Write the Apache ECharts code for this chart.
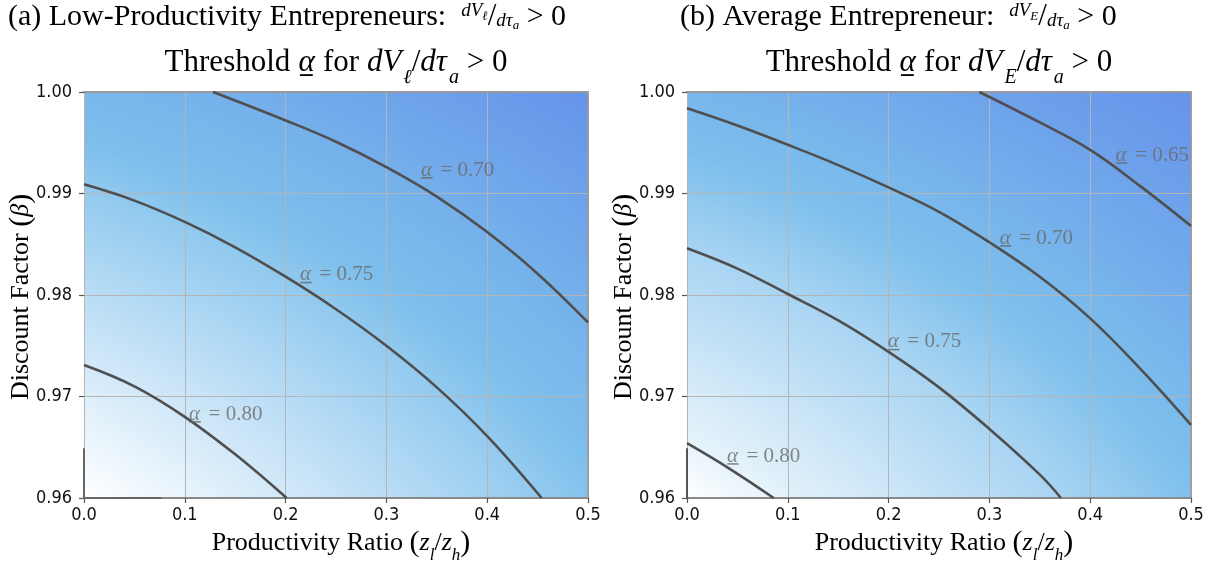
<!DOCTYPE html>
<html><head><meta charset="utf-8">
<script src="https://cdn.jsdelivr.net/npm/echarts@6/dist/echarts.min.js"></script>
<style>html,body{margin:0;padding:0;background:#fff}#c{width:1213px;height:563px}</style>
</head><body><div id="c"></div>
<script>
// ---------- data ----------
const xTickLabels = ['0.0', '0.1', '0.2', '0.3', '0.4', '0.5'];
const yTickLabels = ['0.96', '0.97', '0.98', '0.99', '1.00'];

// Panel (a): low-productivity entrepreneurs, contour lines of threshold alpha  [z_l/z_h, beta]
const a_alpha070 = [[0.128,1.000],[0.20,0.9972],[0.25,0.9951],[0.30,0.9926],[0.35,0.9897],[0.40,0.9862],[0.45,0.9821],[0.50,0.9773]];
const a_alpha075 = [[0,0.9909],[0.05,0.9893],[0.10,0.9872],[0.15,0.9847],[0.20,0.9818],[0.25,0.9786],[0.30,0.9750],[0.35,0.9709],[0.40,0.9661],[0.454,0.960]];
const a_alpha080 = [[0,0.9731],[0.05,0.9710],[0.10,0.9680],[0.15,0.9643],[0.201,0.960]];
const a_alpha085 = [[0,0.9649],[0,0.960],[0.077,0.960]];

// Panel (b): average entrepreneur
const b_alpha065 = [[0.290,1.000],[0.35,0.9970],[0.40,0.9943],[0.45,0.9907],[0.50,0.9868]];
const b_alpha070 = [[0,0.9984],[0.05,0.9967],[0.10,0.9948],[0.15,0.9928],[0.20,0.9906],[0.25,0.9882],[0.30,0.9852],[0.35,0.9818],[0.40,0.9777],[0.45,0.9727],[0.50,0.9672]];
const b_alpha075 = [[0,0.9846],[0.05,0.9826],[0.10,0.9801],[0.15,0.9775],[0.20,0.9744],[0.25,0.9709],[0.30,0.9668],[0.35,0.9623],[0.371,0.960]];
const b_alpha080 = [[0,0.9654],[0.042,0.9629],[0.086,0.960]];
const b_alpha085 = [[0,0.9649],[0,0.960]];

// contour label levels and their anchor points (data coords)
const a_labelLevels = ['0.70', '0.75', '0.80'];
const a_labelAt = [[0.369,0.9923],[0.249,0.9820],[0.139,0.96825]];
const b_labelLevels = ['0.65', '0.70', '0.75', '0.80'];
const b_labelAt = [[0.460,0.99376],[0.345,0.98559],[0.234,0.97539],[0.0744,0.96411]];

// ---------- chart ----------
const SERIF = "'Liberation Serif','DejaVu Serif',serif";
const SANS = "'DejaVu Sans Condensed','DejaVu Sans',sans-serif";
const chart = echarts.init(document.getElementById('c'), null, {renderer: 'canvas', width: 1213, height: 563});

const gridA = {left: 84, top: 92, width: 504, height: 406};
const gridB = {left: 687, top: 92, width: 504, height: 406};

// underline image (style helper for the underlined alpha)
function underline(color, w, h, x0, x1, y0, th) {
  const cv = document.createElement('canvas');
  cv.width = w; cv.height = h;
  const ctx = cv.getContext('2d');
  ctx.fillStyle = color;
  ctx.fillRect(x0, y0, x1 - x0, th);
  return cv.toDataURL();
}
const ulGray = underline('#6a6a6a', 20, 24, 4, 17, 20, 1.5);
const ulBlack = underline('#000000', 20, 36, 2, 17, 31, 2);

function mainX(gi) {
  return {type: 'value', gridIndex: gi, min: 0, max: 0.5, interval: 0.1,
    axisLine: {show: true, onZero: false, lineStyle: {color: '#8a8a8a', width: 2}},
    axisTick: {show: true, length: 5, lineStyle: {color: '#555', width: 1.2}},
    axisLabel: {margin: 8, color: '#111', fontFamily: SANS, fontSize: 18,
      formatter: v => xTickLabels[Math.round(v / 0.1)]},
    splitLine: {show: true, lineStyle: {color: '#b5b5b5', width: 1}}};
}
function topX(gi) {
  return {type: 'value', gridIndex: gi, min: 0, max: 0.5, position: 'top',
    axisLine: {show: true, onZero: false, lineStyle: {color: '#999', width: 2}},
    axisTick: {show: false}, axisLabel: {show: false}, splitLine: {show: false}};
}
function mainY(gi) {
  return {type: 'value', gridIndex: gi, min: 0.96, max: 1.0, interval: 0.01,
    axisLine: {show: false},
    axisTick: {show: true, length: 5, lineStyle: {color: '#555', width: 1.2}},
    axisLabel: {margin: 12, color: '#111', fontFamily: SANS, fontSize: 18,
      formatter: v => yTickLabels[Math.round((v - 0.96) / 0.01)]},
    splitLine: {show: true, lineStyle: {color: '#b5b5b5', width: 1}}};
}
function rightY(gi) {
  return {type: 'value', gridIndex: gi, min: 0.96, max: 1.0, position: 'right',
    axisLine: {show: true, onZero: false, lineStyle: {color: '#999', width: 1.5}},
    axisTick: {show: false}, axisLabel: {show: false}, splitLine: {show: false}};
}

function contour(data, xi, yi, color, width) {
  return {type: 'line', xAxisIndex: xi, yAxisIndex: yi, data: data, showSymbol: false,
    smooth: 0.4, silent: true, z: 3,
    lineStyle: {color: color || '#4f4f4f', width: width || 2.6}};
}
function labels(levels, at, xi, yi) {
  return {type: 'scatter', xAxisIndex: xi, yAxisIndex: yi, symbolSize: 0, silent: true, z: 5,
    data: levels.map((lv, i) => ({name: lv, value: at[i]})),
    label: {show: true, position: 'inside',
      formatter: p => '{i|α}{t| = ' + p.name + '}',
      rich: {i: {fontFamily: SERIF, fontStyle: 'italic', fontSize: 21, lineHeight: 24, color: '#6a6a6a',
                 backgroundColor: {image: ulGray}},
             t: {fontFamily: SERIF, fontSize: 21, lineHeight: 24, color: '#6a6a6a'}}}};
}

const titleRich = {
  t: {fontFamily: SERIF, fontSize: 31, lineHeight: 36, color: '#000'},
  i: {fontFamily: SERIF, fontSize: 31, lineHeight: 36, fontStyle: 'italic', color: '#000'},
  iu: {fontFamily: SERIF, fontSize: 31, lineHeight: 36, fontStyle: 'italic', color: '#000', backgroundColor: {image: ulBlack}},
  sub: {fontFamily: SERIF, fontSize: 20, fontStyle: 'italic', color: '#000', verticalAlign: 'bottom', padding: [0, 0, -7, 2]},
  h: {fontFamily: SERIF, fontSize: 30, color: '#000'},
  s: {fontFamily: SERIF, fontSize: 19, fontStyle: 'italic', color: '#000', verticalAlign: 'top', padding: [0, 0, 0, 0]},
  ss: {fontFamily: SERIF, fontSize: 13, fontStyle: 'italic', color: '#000', verticalAlign: 'top', padding: [9, 0, 0, 0]},
  sd: {fontFamily: SERIF, fontSize: 19, fontStyle: 'italic', color: '#000', verticalAlign: 'bottom', padding: [0, 0, 2, 0]},
  sds: {fontFamily: SERIF, fontSize: 13, fontStyle: 'italic', color: '#000', verticalAlign: 'bottom', padding: [0, 0, 0, 0]},
  sl: {fontFamily: SERIF, fontSize: 31, color: '#000'},
  ax: {fontFamily: SERIF, fontSize: 26, color: '#000'},
  axi: {fontFamily: SERIF, fontSize: 26, fontStyle: 'italic', color: '#000'},
  axs: {fontFamily: SERIF, fontSize: 17, fontStyle: 'italic', color: '#000', verticalAlign: 'bottom', padding: [0, 0, -6, 0]},
  axp: {fontFamily: SERIF, fontSize: 30, color: '#000'}
};

function textEl(x, y, text, align, extra) {
  return Object.assign({type: 'text', x: x, y: y, silent: true, z: 10,
    style: {text: text, rich: titleRich, align: align || 'center', verticalAlign: 'middle'}}, extra || {});
}

const option = {
  animation: false,
  backgroundColor: '#fff',
  grid: [gridA, gridB],
  xAxis: [mainX(0), topX(0), mainX(1), topX(1)],
  yAxis: [mainY(0), rightY(0), mainY(1), rightY(1)],
  series: [
    contour(a_alpha070, 0, 0), contour(a_alpha075, 0, 0), contour(a_alpha080, 0, 0),
    contour(a_alpha085, 0, 0, '#666', 2),
    contour(b_alpha065, 2, 2), contour(b_alpha070, 2, 2), contour(b_alpha075, 2, 2), contour(b_alpha080, 2, 2),
    contour(b_alpha085, 2, 2, '#555', 2),
    labels(a_labelLevels, a_labelAt, 0, 0),
    labels(b_labelLevels, b_labelAt, 2, 2)
  ]
};
chart.setOption(option);

// heat background: elliptical radial gradient drawn behind each plot area
function heatBg(xi, yi, cfg) {
  const p0 = chart.convertToPixel({xAxisIndex: xi, yAxisIndex: yi}, [0, 0.96]);
  const p1 = chart.convertToPixel({xAxisIndex: xi, yAxisIndex: yi}, [0.5, 1.0]);
  const W = p1[0] - p0[0], H = p0[1] - p1[1], k = cfg.k;
  return {type: 'rect', x: p0[0], y: p0[1], scaleX: k, scaleY: 1, z: -10, silent: true,
    shape: {x: 0, y: -H, width: W / k, height: H},
    style: {fill: {type: 'radial', x: cfg.cx, y: cfg.cy, r: cfg.r, global: true, colorStops: cfg.stops}}};
}
const bgA = heatBg(0, 0, {k: 1.5, cx: -374, cy: 374, r: 1060, stops: [
  {offset: 0, color: '#ffffff'}, {offset: 0.499, color: '#ffffff'}, {offset: 0.595, color: '#d3e9f9'},
  {offset: 0.733, color: '#93caef'}, {offset: 0.774, color: '#7dbfec'}, {offset: 0.85, color: '#75b1eb'},
  {offset: 1, color: '#6592ea'}]});
const bgB = heatBg(2, 2, {k: 1.5, cx: -332, cy: 330, r: 1000, stops: [
  {offset: 0, color: '#ffffff'}, {offset: 0.468, color: '#ffffff'}, {offset: 0.51, color: '#e6f3fb'},
  {offset: 0.668, color: '#a8d4f2'}, {offset: 0.753, color: '#7dbfec'}, {offset: 0.79, color: '#7ab9ec'},
  {offset: 0.902, color: '#6ea3eb'}, {offset: 1, color: '#6592ea'}]});

const cxA = gridA.left + gridA.width / 2, cxB = gridB.left + gridB.width / 2;
const axName = '{ax|Productivity Ratio }{axp|(}{axi|z}{axs|l}{ax|/}{axi|z}{axs|h}{axp|)}';
const ayName = '{ax|Discount Factor }{axp|(}{axi|β}{axp|)}';
chart.setOption({graphic: {elements: [
  bgA, bgB,
  textEl(8, 17, '{h|(a) Low-Productivity Entrepreneurs:  }{s|dV}{ss|ℓ}{sl|/}{sd|dτ}{sds|a}{h| > 0}', 'left'),
  textEl(680, 17, '{h|(b) Average Entrepreneur:  }{s|dV}{ss|E}{sl|/}{sd|dτ}{sds|a}{h| > 0}', 'left'),
  textEl(cxA, 63, '{t|Threshold }{iu|α}{t| for }{i|dV}{sub|ℓ}{t|/}{i|dτ}{sub|a}{t| > 0}'),
  textEl(cxB, 63, '{t|Threshold }{iu|α}{t| for }{i|dV}{sub|E}{t|/}{i|dτ}{sub|a}{t| > 0}'),
  textEl(cxA + 5, 543, axName),
  textEl(cxB + 5, 543, axName),
  textEl(21, 297, ayName, 'center', {rotation: Math.PI / 2}),
  textEl(624, 297, ayName, 'center', {rotation: Math.PI / 2})
]}});
</script>
</body></html>
